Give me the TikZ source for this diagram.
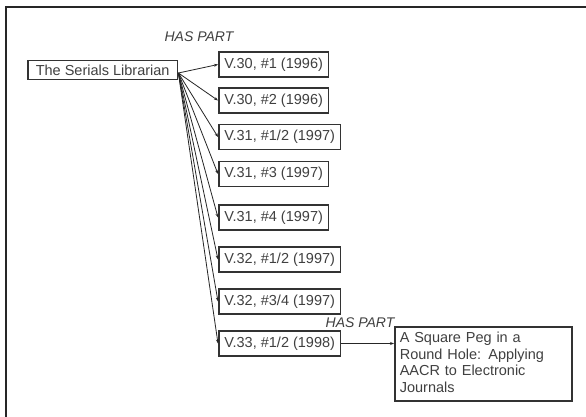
\documentclass[tikz,border=0pt]{standalone}
\usepackage{fontspec}
\setmainfont{Liberation Sans}
\usetikzlibrary{arrows.meta}
\begin{document}
\begin{tikzpicture}[x=1pt,y=-1pt,
  box/.style={draw=black!80,line width=1.6pt,inner xsep=5.5pt,inner ysep=0pt,minimum height=25pt,anchor=west,font=\fontsize{14.5}{16}\selectfont,text=black!75},
  conn/.style={draw=black!85,line width=0.8pt,-{Stealth[length=4pt,width=3pt]}},
  rel/.style={font=\fontsize{14}{16}\selectfont\itshape,text=black!75,inner sep=0pt}]
\useasboundingbox (0,0) rectangle (586,417);
\fill[white] (0,0) rectangle (586,417);
\draw[line width=1.6pt,black!85] (6,417) -- (6,7) -- (586,7);
\node[box,minimum height=19pt,inner xsep=8pt] (lib) at (27,70) {The Serials Librarian};
\node[box] (v1) at (218,64.5) {V.30, \#1 (1996)};
\node[box] (v2) at (218,100.5) {V.30, \#2 (1996)};
\node[box] (v3) at (218,137) {V.31, \#1/2 (1997)};
\node[box] (v4) at (218,174) {V.31, \#3 (1997)};
\node[box] (v5) at (218,217.5) {V.31, \#4 (1997)};
\node[box] (v6) at (218,259.5) {V.32, \#1/2 (1997)};
\node[box] (v7) at (218,301.5) {V.32, \#3/4 (1997)};
\node[box] (v8) at (218,343.5) {V.33, \#1/2 (1998)};
\node[box,anchor=north west,minimum width=177pt,minimum height=74pt,text width=167pt,align=left,inner xsep=5pt,inner ysep=3pt,font=\fontsize{14.5}{16.5}\selectfont] (big) at (394,326) {A Square Peg in a\\Round Hole: Applying\\AACR to Electronic\\Journals\vphantom{g}\\[-5pt]};
\node[rel] (hp1) at (199,37) {HAS PART};
\node[rel] (hp2) at (360,323) {HAS PART};
\coordinate (src) at ([yshift=-3pt]lib.east);
\foreach \n in {v1,v2,v3,v4,v5,v6,v7,v8}
  \draw[conn] (src) -- (\n.west);
\draw[conn] (v8.east) -- (big.west |- v8.east);
\end{tikzpicture}
\end{document}
